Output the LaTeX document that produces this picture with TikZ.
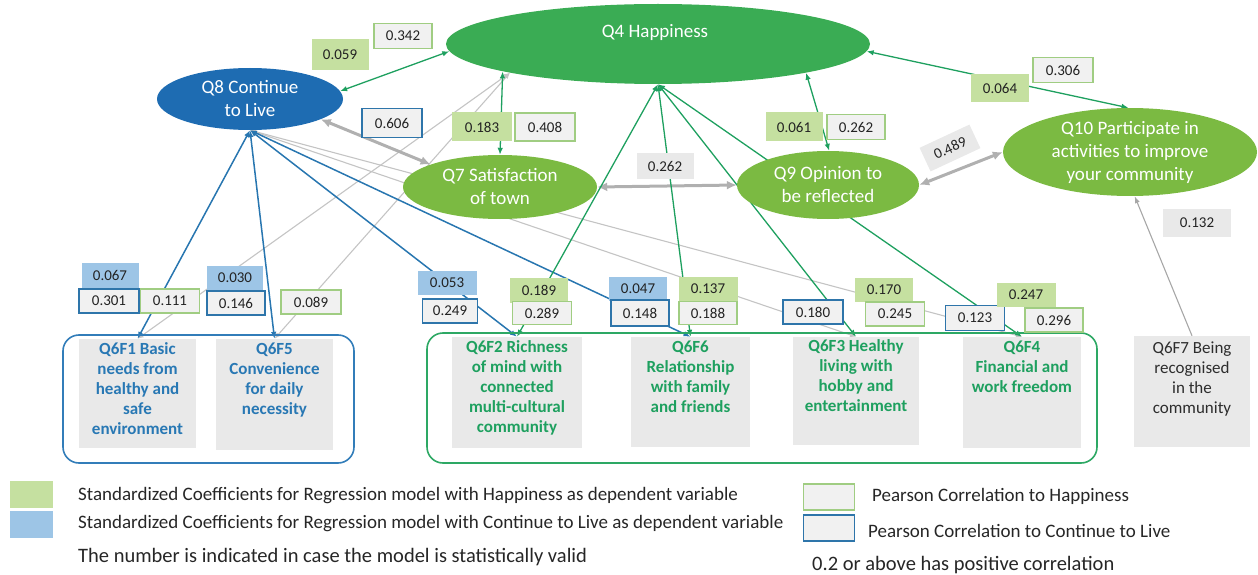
\documentclass[tikz,border=0pt]{standalone}
\usepackage{fontspec}
\setmainfont{Carlito}
\usetikzlibrary{shapes.geometric,arrows.meta}
\pgfdeclarelayer{bg}
\pgfsetlayers{bg,main}
\definecolor{hapfill}{RGB}{58,172,84}
\definecolor{ctlfill}{RGB}{30,108,178}
\definecolor{lgfill}{RGB}{123,186,66}
\definecolor{gline}{RGB}{30,160,95}
\definecolor{bline}{RGB}{40,118,176}
\definecolor{grline}{RGB}{196,196,196}
\definecolor{regG}{RGB}{197,224,160}
\definecolor{regB}{RGB}{157,197,230}
\definecolor{pfill}{RGB}{241,241,241}
\definecolor{pgb}{RGB}{160,205,130}
\definecolor{pbb}{RGB}{46,117,170}
\definecolor{boxgray}{RGB}{233,233,233}
\definecolor{valtext}{RGB}{35,35,35}
\definecolor{q6blue}{RGB}{40,120,180}
\definecolor{q6green}{RGB}{30,160,95}
\definecolor{q6gray}{RGB}{45,45,45}
\definecolor{grpblue}{RGB}{50,125,185}
\definecolor{grpgreen}{RGB}{45,168,100}
\begin{document}
\begin{tikzpicture}[x=1pt,y=-1pt,
  ell/.style={ellipse, inner sep=0pt, text=white, align=center},
  ellfont/.style={font=\fontsize{19}{23}\selectfont},
  val/.style={minimum width=58pt, minimum height=24pt, inner sep=0pt, text=valtext, font=\fontsize{15}{17}\selectfont},
  rg/.style={val, fill=regG},
  rb/.style={val, fill=regB},
  pg/.style={val, fill=pfill, draw=pgb, line width=1.3pt},
  pb/.style={val, fill=pfill, draw=pbb, line width=1.3pt},
  pn/.style={val, fill=boxgray},
  qbox/.style={fill=boxgray, inner sep=0pt, align=center, font=\bfseries\fontsize{17}{20}\selectfont},
  grp/.style={rounded corners=16pt, line width=1.6pt},
  gedge/.style={draw=gline, line width=1.3pt, arrows={Latex[length=7pt,width=5.5pt]-Latex[length=7pt,width=5.5pt]}},
  bedge/.style={draw=bline, line width=1.5pt, arrows={Latex[length=7pt,width=5.5pt]-Latex[length=7pt,width=5.5pt]}},
  thin/.style={draw=grline, line width=1.1pt, arrows={Latex[length=6pt,width=5pt]-Latex[length=6pt,width=5pt]}},
  thinone/.style={draw=grline!85!black, line width=1.1pt, arrows={-Latex[length=7pt,width=5pt]}},
  thick/.style={draw=grline!90!black, line width=3pt, arrows={Latex[length=10pt,width=9pt]-Latex[length=10pt,width=9pt]}},
  legtxt/.style={anchor=west, inner sep=0pt, text=black!85, font=\fontsize{19}{22}\selectfont}
]
\useasboundingbox (0,0) rectangle (1258,575);

% ellipses
\node[ell, fill=hapfill, minimum width=424pt, minimum height=80pt] (q4) at (658,44) {};
\node[ell, ellfont] (q4t) at (655,32) {Q4 Happiness};
\node[ell, ellfont, fill=ctlfill, minimum width=186pt, minimum height=62pt] (q8) at (250,99) {Q8 Continue\\to Live};
\node[ell, ellfont, fill=lgfill, minimum width=194pt, minimum height=64pt] (q7) at (500,187) {Q7 Satisfaction\\of town};
\node[ell, ellfont, fill=lgfill, minimum width=182pt, minimum height=68pt] (q9) at (828,185) {Q9 Opinion to\\be reflected};
\node[ell, ellfont, fill=lgfill, minimum width=254pt, minimum height=86pt] (q10) at (1130,152) {Q10 Participate in\\activities to improve\\your community};

% groups
\draw[grp, draw=grpblue] (63,335) rectangle (354,463);
\draw[grp, draw=grpgreen] (427,333) rectangle (1097,463);

% Q6 boxes
\node[qbox, text=q6blue, minimum width=117pt, minimum height=109pt] (q6f1) at (137.5,393.5)
  {\parbox[c][101pt][t]{114pt}{\centering Q6F1 Basic\\needs from\\healthy and\\safe\\environment}};
\node[qbox, text=q6blue, minimum width=117pt, minimum height=111pt] (q6f5) at (274.5,394.5)
  {\parbox[c][103pt][t]{114pt}{\centering Q6F5\\Convenience\\for daily\\necessity}};
\node[qbox, text=q6green, minimum width=130pt, minimum height=111pt] (q6f2) at (517,392.5)
  {\parbox[c][103pt][t]{128pt}{\centering Q6F2 Richness\\of mind with\\connected\\multi-cultural\\community}};
\node[qbox, text=q6green, minimum width=119pt, minimum height=110pt] (q6f6) at (690.5,392)
  {\parbox[c][102pt][t]{117pt}{\centering Q6F6\\Relationship\\with family\\and friends}};
\node[qbox, text=q6green, minimum width=126pt, minimum height=108pt] (q6f3) at (856,391)
  {\parbox[c][102pt][t]{124pt}{\centering Q6F3 Healthy\\living with\\hobby and\\entertainment}};
\node[qbox, text=q6green, minimum width=118pt, minimum height=111pt] (q6f4) at (1022,392.5)
  {\parbox[c][103pt][t]{116pt}{\centering Q6F4\\Financial and\\work freedom}};
\node[qbox, text=q6gray, font=\fontsize{17}{20}\selectfont, minimum width=116pt, minimum height=111pt] (q6f7) at (1192,391.5)
  {\parbox[c][99pt][t]{114pt}{\centering Q6F7 Being\\recognised\\in the\\community}};

% connectors (behind)
\begin{pgfonlayer}{bg}
\draw[thin] (q4.191) -- (q6f1.north);
\draw[thin] (q4.191) -- (q6f5.north);
\draw[thin] (q8.south) -- (q6f3.north);
\draw[thin] (q8.south) -- (q6f4.north);
\draw[thinone] (q6f7.north) -- (q10.276);
\draw[thick] (q8.344) -- (q7.162);
\draw[thick] (q7.east) -- (q9.west);
\draw[thick] (q9.east) -- (q10.west);
\draw[bedge] (q8.south) -- (q6f1.north);
\draw[bedge] (q8.south) -- (q6f5.north);
\draw[bedge] (q8.south) -- (q6f2.north);
\draw[bedge] (q8.south) -- (q6f6.north);
\draw[gedge] (q4.182) -- (q8.5);
\draw[gedge] (q4.190) -- (q7.north);
\draw[gedge] (q4.349) -- (q9.88);
\draw[gedge] (q4.358) -- (q10.92);
\draw[gedge] (q4.south) -- (q6f2.north);
\draw[gedge] (q4.south) -- (q6f6.north);
\draw[gedge] (q4.south) -- (q6f3.north);
\draw[gedge] (q4.south) -- (q6f4.north);
\end{pgfonlayer}

% value boxes
\node[rg, minimum width=57pt, minimum height=31pt] (v059) at (340,55) {0.059};
\node[pg, minimum height=25pt] (v342) at (403,36) {0.342};
\node[pb, minimum width=60pt, minimum height=29pt] (v606) at (392,123) {0.606};
\node[rg, minimum width=60pt, minimum height=29pt] (v183) at (482,127) {0.183};
\node[pg, minimum width=60pt, minimum height=28pt] (v408) at (545,127) {0.408};
\node[rg, minimum width=57pt, minimum height=29pt] (v061) at (794,127) {0.061};
\node[pg, minimum height=25pt] (v262a) at (856,127) {0.262};
\node[rg, minimum height=28pt] (v064) at (1000,88) {0.064};
\node[pg, minimum width=60pt, minimum height=25pt] (v306) at (1063,70) {0.306};
\node[pn, minimum width=55pt, minimum height=26pt, rotate=25] (v489) at (950,148) {0.489};
\node[pn, minimum width=68pt, minimum height=28pt] (v132) at (1197,223) {0.132};
\node[pn, minimum width=57pt, minimum height=25pt] (v262b) at (665,166) {0.262};
\node[rb, minimum width=57pt, minimum height=25pt] (v067) at (110,275) {0.067};
\node[pb, minimum width=60pt] (v301) at (109,301) {0.301};
\node[pg, minimum width=59pt] (v111) at (170,301) {0.111};
\node[rb, minimum width=56pt] (v030) at (235,278) {0.030};
\node[pb] (v146) at (236,303) {0.146};
\node[pg, minimum width=60pt] (v089) at (311,302) {0.089};
\node[rb, minimum width=59pt] (v053) at (447,283) {0.053};
\node[pb, minimum width=55pt] (v249) at (450,311) {0.249};
\node[rg, minimum height=25pt] (v189) at (539,290) {0.189};
\node[pg, minimum width=59pt, minimum height=23pt] (v289) at (542,313) {0.289};
\node[rb] (v047) at (638,289) {0.047};
\node[pb, minimum height=26pt] (v148) at (640,313) {0.148};
\node[rg, minimum width=59pt, minimum height=25pt] (v137) at (708,289) {0.137};
\node[pg, minimum height=23pt] (v188) at (708,313) {0.188};
\node[pb, minimum width=60pt] (v180) at (813,312) {0.180};
\node[rg] (v170) at (884,290) {0.170};
\node[pg, minimum width=59pt] (v245) at (895,314) {0.245};
\node[pb, minimum width=59pt, minimum height=25pt] (v123) at (975,318) {0.123};
\node[rg, minimum width=59pt] (v247) at (1026,295) {0.247};
\node[pg] (v296) at (1054,320) {0.296};

% legend
\node[fill=regG, minimum width=43pt, minimum height=27pt, inner sep=0pt] (lg1) at (31,494.5) {};
\node[fill=regB, minimum width=43pt, minimum height=27pt, inner sep=0pt] (lg2) at (31,524.5) {};
\node[legtxt] (lt1) at (78,496) {Standardized Coefficients for Regression model with Happiness as dependent variable};
\node[legtxt] (lt2) at (78,524) {Standardized Coefficients for Regression model with Continue to Live as dependent variable};
\node[legtxt, font=\fontsize{20.5}{24}\selectfont] (lt3) at (78,557) {The number is indicated in case the model is statistically valid};
\node[fill=pfill, draw=pgb, line width=1.3pt, minimum width=51pt, minimum height=26pt, inner sep=0pt] (lg3) at (829,497) {};
\node[fill=pfill, draw=pbb, line width=1.3pt, minimum width=51pt, minimum height=26pt, inner sep=0pt] (lg4) at (829,528) {};
\node[legtxt] (lt4) at (872,496) {Pearson Correlation to Happiness};
\node[legtxt] (lt5) at (868,531) {Pearson Correlation to Continue to Live};
\node[legtxt, font=\fontsize{20.5}{24}\selectfont] (lt6) at (812,565) {0.2 or above has positive correlation};
\end{tikzpicture}
\end{document}
